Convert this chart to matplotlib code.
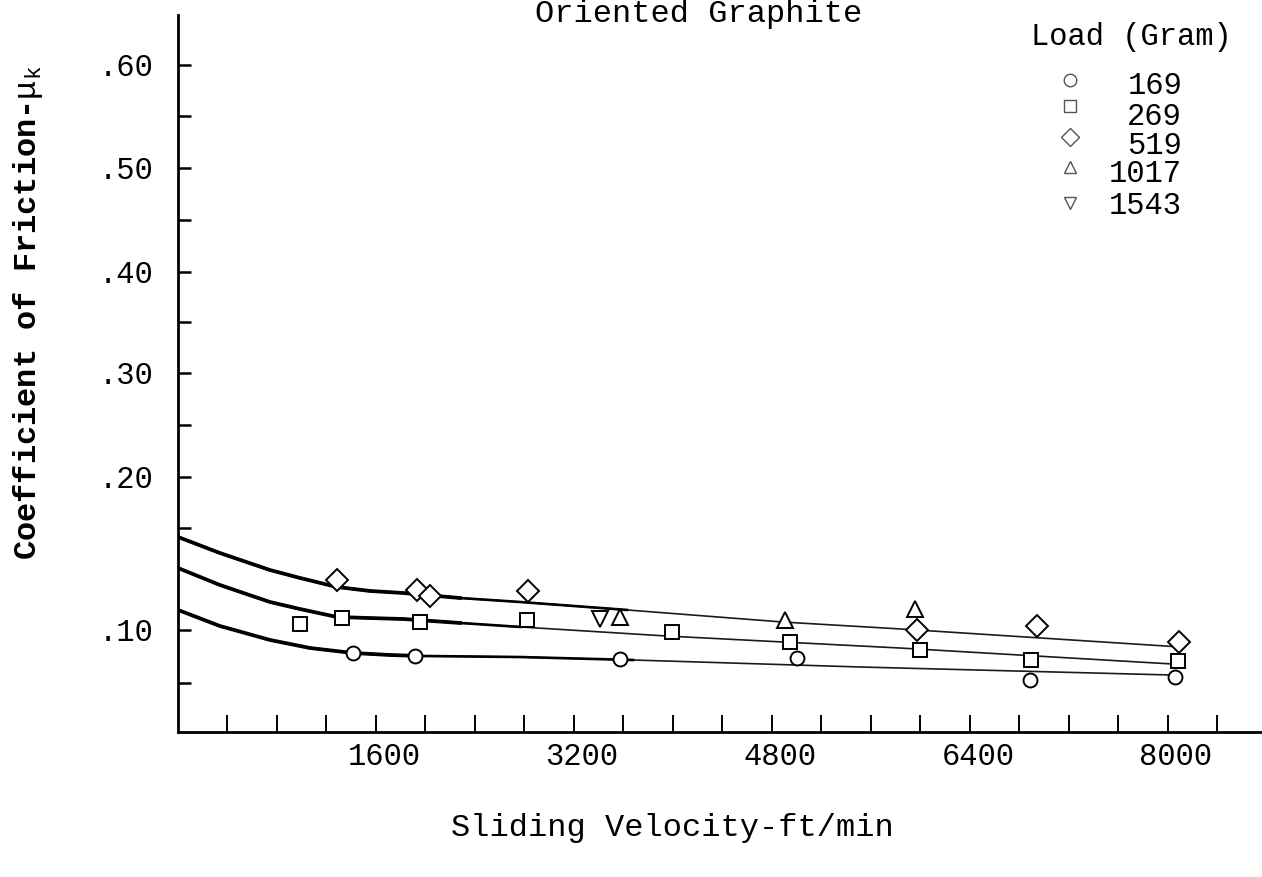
import numpy as np
import matplotlib
matplotlib.use('Agg')
import matplotlib.pyplot as plt
from matplotlib.transforms import ScaledTranslation

plt.rcParams['font.family'] = ['Liberation Mono', 'DejaVu Sans Mono']
plt.rcParams['mathtext.fontset'] = 'custom'
plt.rcParams['mathtext.rm'] = 'Liberation Mono'
plt.rcParams['mathtext.it'] = 'Liberation Mono'

# ------------------------
# data
# ------------------------

# load 169 g (circles)
vel_169 = [1414, 1915, 3572, 5002, 6885, 8057]
mu_169 = [0.0783, 0.0755, 0.0726, 0.0736, 0.0528, 0.0557]

# load 269 g (squares)
vel_269 = [986, 1325, 1956, 2820, 3992, 4945, 5996, 6893, 8081]
mu_269 = [0.1039, 0.1078, 0.1052, 0.1065, 0.0981, 0.0887, 0.0811, 0.0717, 0.0708]

# load 519 g (diamonds)
vel_519 = [1285, 1931, 2036, 2828, 5972, 6941, 8089]
mu_519 = [0.1327, 0.1261, 0.1222, 0.1255, 0.1000, 0.1026, 0.0887]

# load 1017 g (triangles up)
vel_1017 = [3572, 4905, 5956]
mu_1017 = [0.1085, 0.1065, 0.1137]

# load 1543 g (triangles down)
vel_1543 = [3410]
mu_1543 = [0.1072]

# hand drawn curves
curve_top_x = [0, 339, 743, 986, 1285, 1552, 1818, 2279, 2764, 3628, 4889, 5834, 8097]
curve_top_y = [0.1608, 0.1503, 0.1392, 0.1340, 0.1281, 0.1255, 0.1242, 0.1209, 0.1183,
               0.1131, 0.1052, 0.1007, 0.0840]
curve_mid_x = [0, 339, 743, 986, 1285, 1552, 1818, 2279, 2764, 3952, 5834, 8040]
curve_mid_y = [0.1405, 0.1294, 0.1183, 0.1137, 0.1085, 0.1078, 0.1072, 0.1046, 0.1020,
               0.0943, 0.0830, 0.0679]
curve_bot_x = [0, 339, 743, 1067, 1414, 1713, 1956, 2764, 3677, 5511, 8040]
curve_bot_y = [0.1131, 0.1026, 0.0906, 0.0830, 0.0783, 0.0764, 0.0755, 0.0745, 0.0717,
               0.0651, 0.0575]

loads = ['169', '269', '519', '1017', '1543']

# the paper's y axis is not evenly ruled below .20
Y_VALS = [0, 0.05, 0.10, 0.20, 0.30, 0.40, 0.50, 0.60, 0.70]
Y_POS = [0, 49, 102, 255, 359, 460, 564, 667, 770]


def fwd(v):
    return np.interp(v, Y_VALS, Y_POS)


def inv(p):
    return np.interp(p, Y_POS, Y_VALS)


fig = plt.figure(figsize=(12.62, 8.77), dpi=100)
ax = fig.add_axes([178 / 1262, 145 / 877, 1084 / 1262, 717 / 877])
ax.set_yscale('function', functions=(fwd, inv))

# curves: heavy at the start, thinning further out
for cx, cy in [(curve_top_x, curve_top_y), (curve_mid_x, curve_mid_y), (curve_bot_x, curve_bot_y)]:
    cx = np.array(cx)
    cy = np.array(cy)
    ax.plot(cx, cy, color='#1a1a1a', lw=1.2)
    ax.plot(cx[cx <= 3700], cy[cx <= 3700], color='black', lw=1.9)
    ax.plot(cx[cx <= 2300], cy[cx <= 2300], color='black', lw=2.7)

mk = dict(ls='none', mfc='white', mec='black', mew=1.4)
ax.plot(vel_169, mu_169, marker='o', ms=10, **mk)
ax.plot(vel_269, mu_269, marker='s', ms=10, **mk)
ax.plot(vel_519, mu_519, marker='D', ms=11, **mk)
ax.plot(vel_1017, mu_1017, marker='^', ms=11, **mk)
ax.plot(vel_1543, mu_1543, marker='v', ms=11, **mk)

ax.set_xlim(0, 8760)
ax.set_ylim(0, 0.6485)

for s in ['top', 'right']:
    ax.spines[s].set_visible(False)
for s in ['left', 'bottom']:
    ax.spines[s].set_linewidth(2.0)

xt = list(range(400, 8401, 400))
ax.set_xticks(xt)
ax.set_xticklabels([str(v) if v in (1600, 3200, 4800, 6400, 8000) else '' for v in xt])
ax.set_yticks([0.10, 0.20, 0.30, 0.40, 0.50, 0.60])
ax.set_yticklabels(['.10', '.20', '.30', '.40', '.50', '.60'])
ax.set_yticks([0.05, 0.1667, 0.25, 0.35, 0.45, 0.55], minor=True)
ax.tick_params(axis='x', direction='in', length=12, width=1.4, pad=7, labelsize=22)
ax.tick_params(axis='y', which='both', direction='in', length=9, width=1.8, pad=18, labelsize=22)
for lab in ax.get_xticklabels():
    lab.set_transform(lab.get_transform() + ScaledTranslation(0.08, 0, fig.dpi_scale_trans))

fig.text(699 / 1262, 1 - 22 / 877, 'Oriented Graphite', ha='center', va='baseline', fontsize=23)
fig.text(672 / 1262, 1 - 828 / 877, 'Sliding Velocity-ft/min', ha='center', va='center', fontsize=23)
fig.text(28 / 1262, 1 - 313 / 877, r'Coefficient of Friction-$\mu_\mathrm{k}$', rotation=90,
         ha='center', va='center', fontsize=23, fontweight='bold')

# legend, typed by hand on the sheet
fig.text(1131 / 1262, 1 - 37 / 877, 'Load (Gram)', ha='center', va='center', fontsize=22)
row_y = [86, 117, 146, 174, 206]
sym_y = [80, 106, 137, 167, 203]
syms = ['o', 's', 'D', '^', 'v']
for lab, ry, sy, m in zip(loads, row_y, sym_y, syms):
    fig.text(1182 / 1262, 1 - ry / 877, lab, ha='right', va='center', fontsize=22)
    ax.plot([(1070 - 178) / 1084], [(732 - sy) / 717], marker=m, ms=9, mfc='white',
            mec='#555555', mew=1.0, transform=ax.transAxes, clip_on=False)

fig.savefig('out.png', dpi=100)
